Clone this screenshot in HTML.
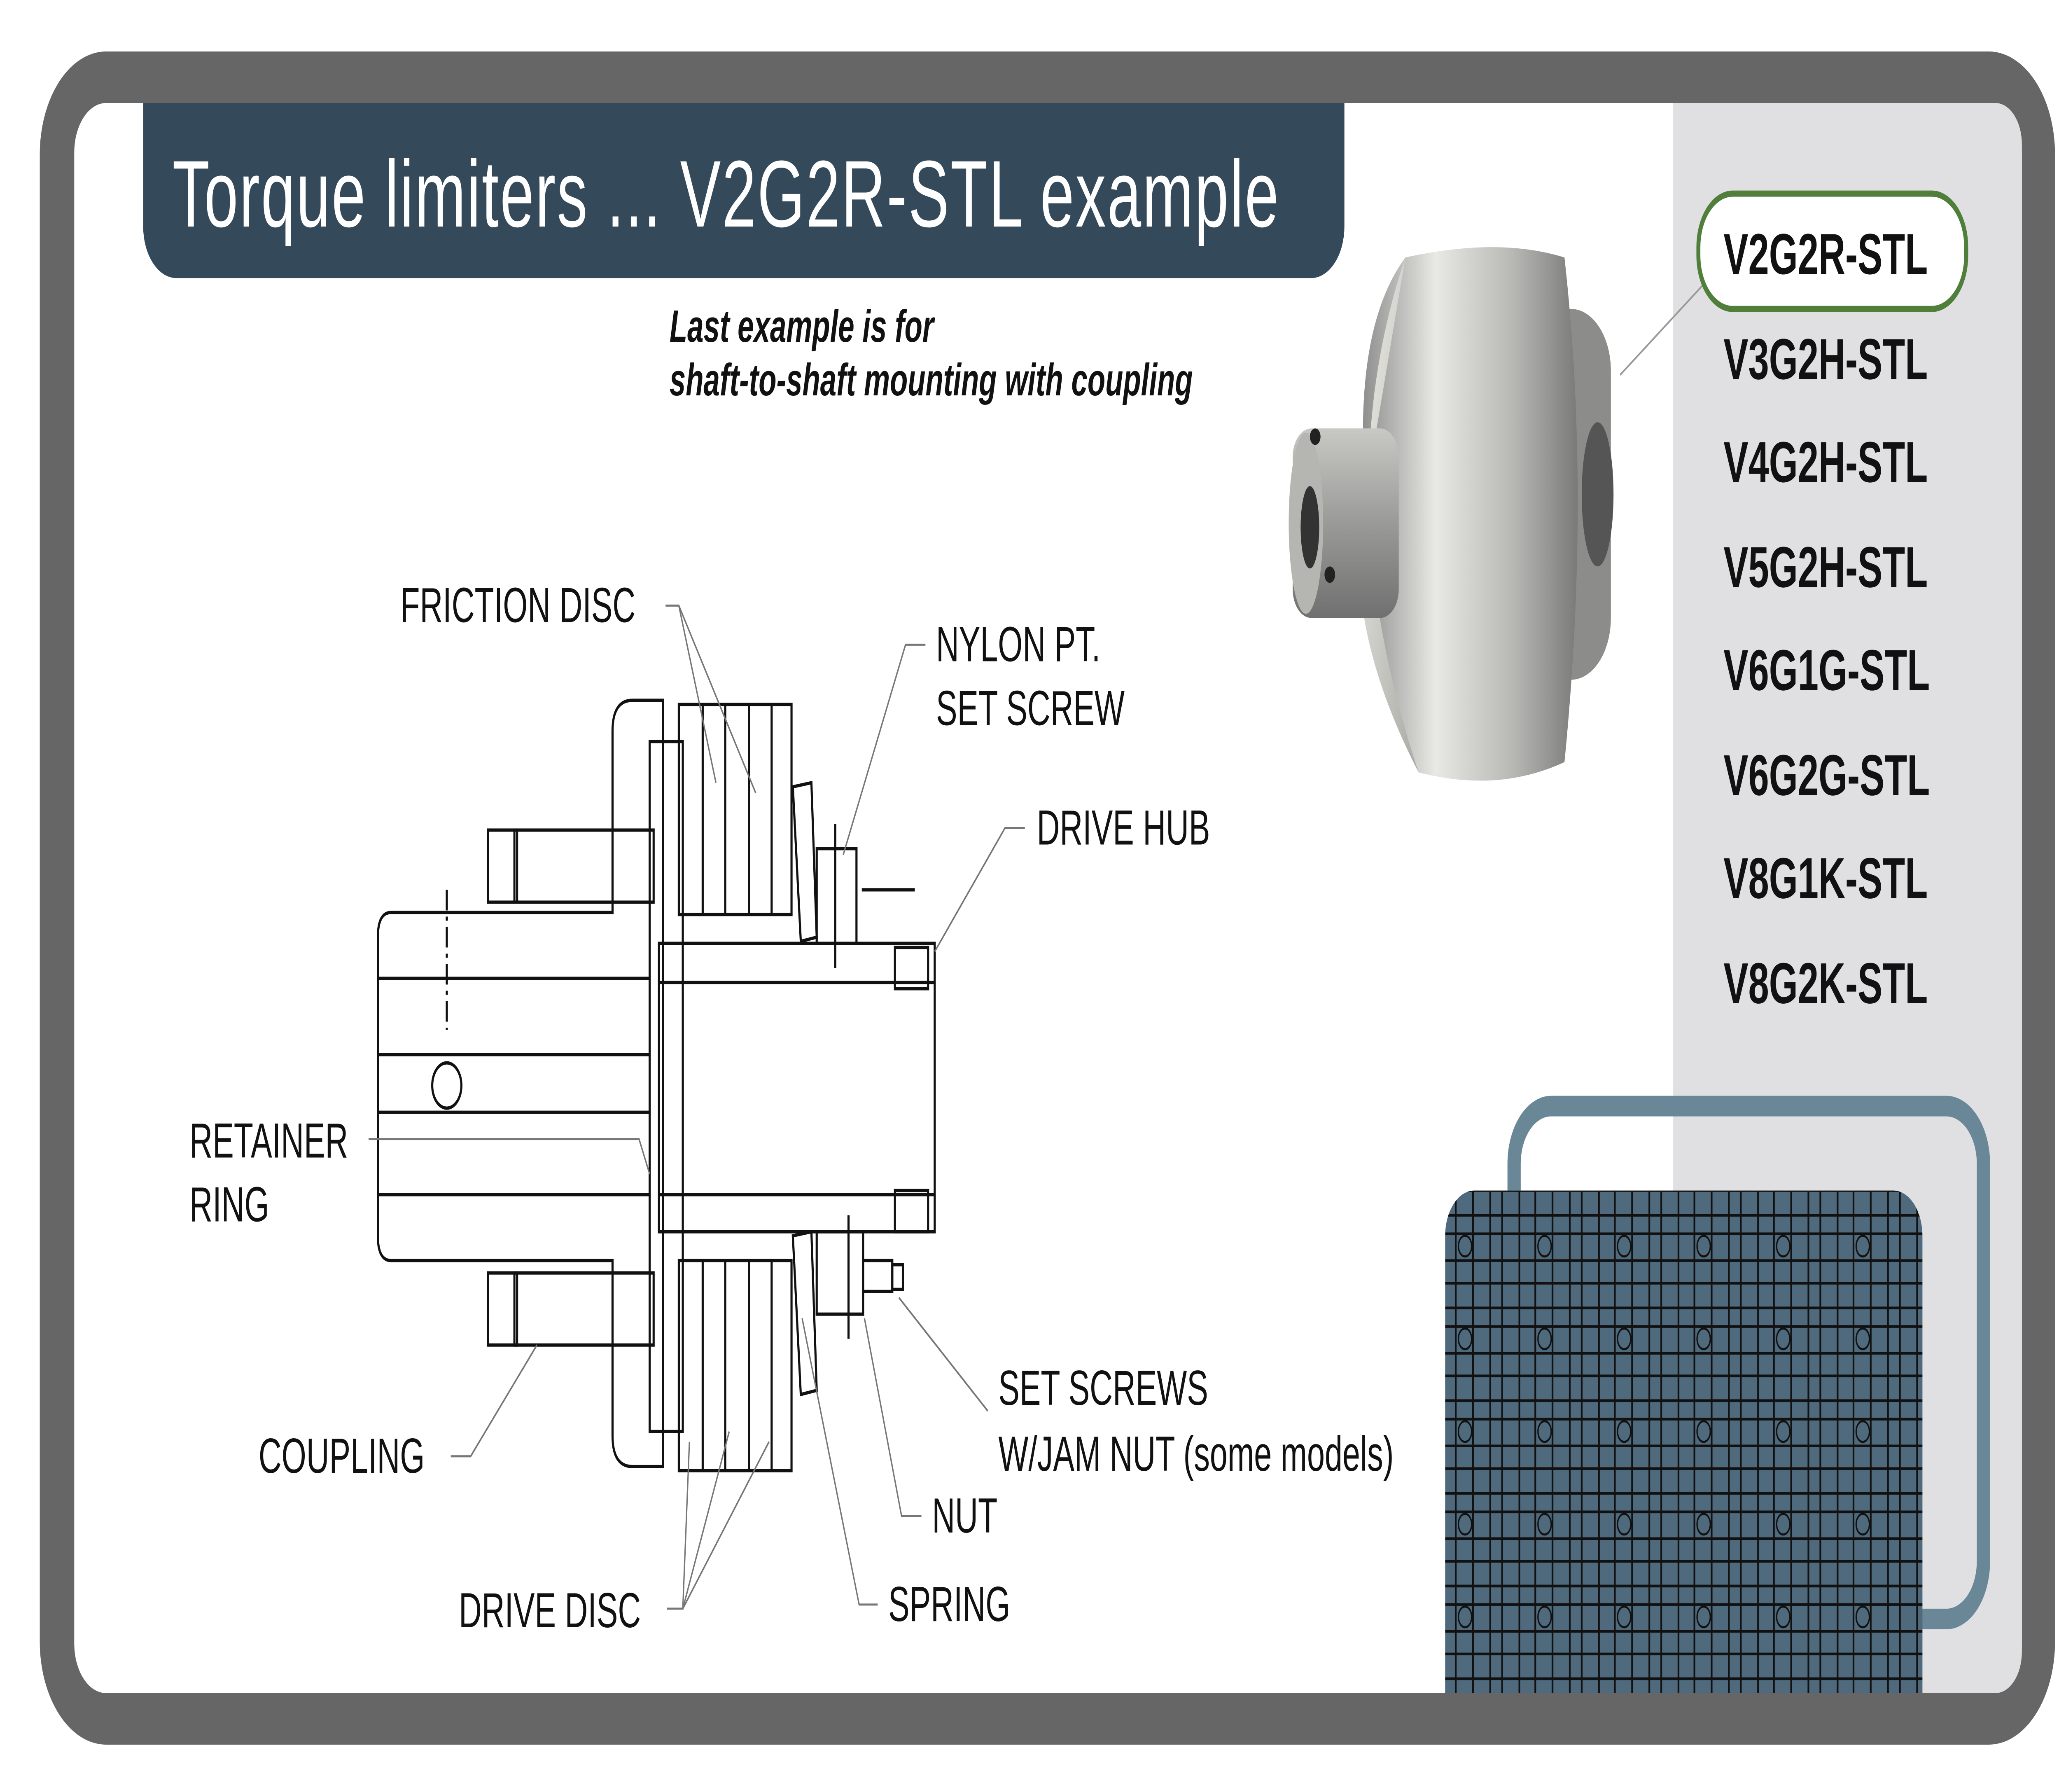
<!DOCTYPE html>
<html><head><meta charset="utf-8"><style>
html,body{margin:0;padding:0;background:#fff;width:100%;height:100%;overflow:hidden;}
svg{display:block;width:100vw;height:100vh;}
text{font-family:"Liberation Sans",sans-serif;}
</style></head><body>
<svg viewBox="0 0 1553 870" preserveAspectRatio="none" xmlns="http://www.w3.org/2000/svg">
<defs>
<linearGradient id="cyl" x1="0" y1="0" x2="1" y2="0">
<stop offset="0" stop-color="#8a8a8a"/><stop offset="0.35" stop-color="#e8e8e4"/><stop offset="0.7" stop-color="#b8b8b4"/><stop offset="1" stop-color="#7a7a7a"/></linearGradient>
<linearGradient id="face" x1="0" y1="0" x2="1" y2="1">
<stop offset="0" stop-color="#f0efe8"/><stop offset="1" stop-color="#a9a9a5"/></linearGradient>
<linearGradient id="hub" x1="0" y1="0" x2="0" y2="1">
<stop offset="0" stop-color="#c8c8c4"/><stop offset="0.5" stop-color="#9a9a98"/><stop offset="1" stop-color="#707070"/></linearGradient>
<pattern id="bp" width="60" height="45" patternUnits="userSpaceOnUse">
<rect width="60" height="45" fill="#4f6a7c"/>
<path d="M0 5H60M0 14H60M0 27H60M0 38H60M6 0V45M18 0V45M31 0V45M44 0V45M53 0V45" stroke="#111" stroke-width="1.3" fill="none"/>
<circle cx="25" cy="20" r="5" stroke="#111" fill="none"/>
</pattern>
</defs>
<rect width="1553" height="870" fill="#fff"/>
<rect x="30" y="25" width="1520" height="822" rx="50" fill="#666"/>
<rect x="56" y="50" width="1469" height="772" rx="24" fill="#fff"/>
<path d="M1262 50H1505a20 20 0 0 1 20 20V802a20 20 0 0 1 -20 20H1262Z" fill="#e0e0e2"/>
<path d="M108 50H1014V110a25 25 0 0 1 -25 25H133a25 25 0 0 1 -25 -25Z" fill="#34495a"/>
<text x="130" y="110" font-size="46" fill="#fff" letter-spacing="1">Torque limiters ... V2G2R-STL example</text>
<text x="505" y="166" font-size="22" font-weight="bold" font-style="italic" fill="#111">Last example is for</text>
<text x="505" y="192" font-size="22" font-weight="bold" font-style="italic" fill="#111">shaft-to-shaft mounting with coupling</text>
<g>
<rect x="1140" y="150" width="75" height="180" rx="30" fill="#8c8c8a"/>
<ellipse cx="1205" cy="240" rx="12" ry="35" fill="#555"/>
<rect x="1120" y="140" width="60" height="200" rx="20" fill="#222"/>
<path d="M1060 125 Q1130 115 1180 125 Q1200 240 1180 370 Q1130 385 1070 375 Q1010 300 1030 240 Q1020 160 1060 125Z" fill="url(#cyl)"/>
<path d="M1060 125 Q1000 240 1070 375 Q1010 300 1030 240Z" fill="url(#face)"/>
<rect x="975" y="208" width="80" height="92" rx="14" fill="url(#hub)"/>
<ellipse cx="985" cy="254" rx="13" ry="44" fill="#b5b5b2"/>
<ellipse cx="988" cy="256" rx="7" ry="20" fill="#333"/>
<circle cx="992" cy="212" r="4" fill="#222"/><circle cx="1003" cy="279" r="4" fill="#222"/>
</g>
<line x1="1222" y1="182" x2="1285" y2="138" stroke="#999" stroke-width="1"/>
<rect x="1281" y="94" width="202" height="56" rx="26" fill="#fff" stroke="#4f7f3a" stroke-width="3"/>
<g font-size="28" font-weight="bold" fill="#111">
<text x="1300" y="133">V2G2R-STL</text>
<text x="1300" y="184">V3G2H-STL</text>
<text x="1300" y="234">V4G2H-STL</text>
<text x="1300" y="285">V5G2H-STL</text>
<text x="1300" y="335">V6G1G-STL</text>
<text x="1300" y="386">V6G2G-STL</text>
<text x="1300" y="436">V8G1K-STL</text>
<text x="1300" y="487">V8G2K-STL</text>
</g>
<path d="M1142 578V565a28 28 0 0 1 28 -28H1468a28 28 0 0 1 28 28V758a28 28 0 0 1 -28 28H1440" fill="none" stroke="#6a8797" stroke-width="10"/>
<path d="M1090 822V600a22 22 0 0 1 22 -22H1428a22 22 0 0 1 22 22V822Z" fill="url(#bp)"/>
<g fill="none" stroke="#111" stroke-width="1.6">
<path d="M295 443H462V355Q462 340 477 340H500V712H477Q462 712 462 697V612H295Q285 612 285 600V455Q285 443 295 443Z"/>
<line x1="285" y1="475" x2="490" y2="475"/><line x1="285" y1="580" x2="490" y2="580"/>
<line x1="285" y1="512" x2="490" y2="512"/><line x1="285" y1="540" x2="490" y2="540"/>
<rect x="368" y="403" width="22" height="35"/><rect x="388" y="403" width="105" height="35"/>
<rect x="368" y="618" width="22" height="35"/><rect x="388" y="618" width="105" height="35"/>
<rect x="490" y="360" width="25" height="335"/>
<rect x="497" y="458" width="208" height="140"/>
<line x1="497" y1="477" x2="705" y2="477"/><line x1="497" y1="580" x2="705" y2="580"/>
<rect x="512" y="342" width="85" height="102"/><rect x="512" y="612" width="85" height="102"/>
<line x1="530" y1="342" x2="530" y2="444"/><line x1="547" y1="342" x2="547" y2="444"/><line x1="565" y1="342" x2="565" y2="444"/><line x1="582" y1="342" x2="582" y2="444"/>
<line x1="530" y1="612" x2="530" y2="714"/><line x1="547" y1="612" x2="547" y2="714"/><line x1="565" y1="612" x2="565" y2="714"/><line x1="582" y1="612" x2="582" y2="714"/>
<path d="M598 382L612 380L616 455L604 457Z"/><path d="M598 600L612 598L616 675L604 677Z"/>
<rect x="616" y="412" width="30" height="46"/><rect x="616" y="598" width="35" height="40"/>
<rect x="651" y="612" width="22" height="15"/><rect x="673" y="614" width="8" height="12"/>
<rect x="675" y="460" width="25" height="20"/><rect x="675" y="578" width="25" height="20"/>
<circle cx="337" cy="527" r="11"/>
<line x1="337" y1="432" x2="337" y2="500" stroke-dasharray="10 3 2 3"/>
<line x1="630" y1="400" x2="630" y2="470"/><line x1="640" y1="590" x2="640" y2="650"/>
<line x1="650" y1="432" x2="690" y2="432"/>
</g>
<g fill="none" stroke="#777" stroke-width="1">
<path d="M502 294H512L540 380M512 294L570 385"/>
<path d="M698 313H683L636 415"/>
<path d="M773 402H758L705 462"/>
<path d="M278 553H482L490 570"/>
<path d="M340 707H355L405 653"/>
<path d="M503 781H515L520 700M515 781L550 695M515 781L580 700"/>
<path d="M745 685L678 630"/>
<path d="M695 736H680L652 640"/>
<path d="M662 779H648L605 640"/>
</g>
<g font-size="24" fill="#111">
<text x="302" y="302">FRICTION DISC</text>
<text x="706" y="321">NYLON PT.</text>
<text x="706" y="352">SET SCREW</text>
<text x="782" y="410">DRIVE HUB</text>
<text x="143" y="562">RETAINER</text>
<text x="143" y="593">RING</text>
<text x="195" y="715">COUPLING</text>
<text x="346" y="790">DRIVE DISC</text>
<text x="753" y="682">SET SCREWS</text>
<text x="753" y="714">W/JAM NUT (some models)</text>
<text x="703" y="744">NUT</text>
<text x="670" y="787">SPRING</text>
</g>
</svg>
</body></html>
